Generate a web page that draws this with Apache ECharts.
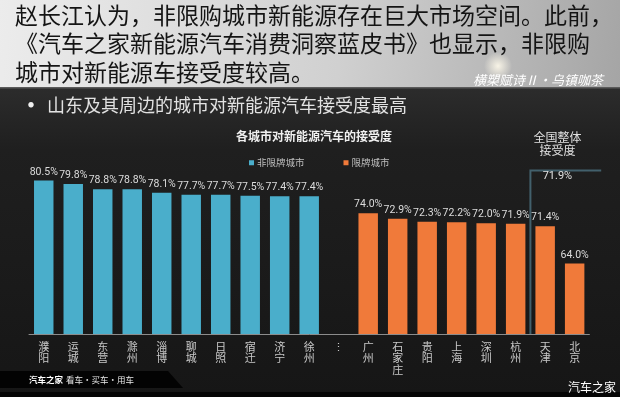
<!DOCTYPE html>
<html>
<head>
<meta charset="utf-8">
<script src="https://cdn.jsdelivr.net/npm/echarts@6/dist/echarts.min.js"></script>
<style>
  html, body { margin: 0; padding: 0; background: #1b1b1b; }
  #chart { width: 620px; height: 397px; }
</style>
</head>
<body>
<div id="chart"></div>
<script>
const cities = ['濮阳', '运城', '东营', '滁州', '淄博', '聊城', '日照', '宿迁', '济宁', '徐州',
  '⋮', '广州', '石家庄', '贵阳', '上海', '深圳', '杭州', '天津', '北京'];
const openCityValues = [80.5, 79.8, 78.8, 78.8, 78.1, 77.7, 77.7, 77.5, 77.4, 77.4];
const limitedCityValues = [74.0, 72.9, 72.3, 72.2, 72.0, 71.9, 71.4, 64.0];
const seriesNames = ['非限牌城市', '限牌城市'];
const nationalLevel = 71.9;
const bracketTop = 82.5;

const headLines = [
  '赵长江认为，非限购城市新能源存在巨大市场空间。此前，',
  '《汽车之家新能源汽车消费洞察蓝皮书》也显示，非限购',
  '城市对新能源车接受度较高。'
];
const bulletText = '山东及其周边的城市对新能源汽车接受度最高';

const CJK = '"Noto Sans CJK SC", "Noto Sans", sans-serif';
const BLUE = '#4aaecb';
const ORANGE = '#f07a3a';

// pad each group out to the full category list
const gapIndex = openCityValues.length;
const openData = cities.map((c, i) => (i < gapIndex ? openCityValues[i] : '-'));
const limitedData = cities.map((c, i) => (i > gapIndex ? limitedCityValues[i - gapIndex - 1] : '-'));

const baseGraphics = [
  {
    type: 'rect', z: -10, silent: true,
    shape: { x: 0, y: 0, width: 620, height: 88 },
    style: {
      fill: new echarts.graphic.LinearGradient(0, 0, 1, 1, [
        { offset: 0, color: '#ececec' },
        { offset: 0.55, color: '#d0d0d0' },
        { offset: 1, color: '#a5a5a5' }
      ])
    }
  },
  {
    type: 'rect', z: -10, silent: true,
    shape: { x: 0, y: 88, width: 620, height: 309 },
    style: {
      fill: new echarts.graphic.LinearGradient(0, 0, 0, 1, [
        { offset: 0, color: '#2c2c2c' },
        { offset: 0.2, color: '#1f1f1f' },
        { offset: 1, color: '#161616' }
      ])
    }
  },
  {
    type: 'rect', z: -9, silent: true,
    shape: { x: 0, y: 87, width: 620, height: 1.5 },
    style: { fill: '#5a5a5a' }
  },
  {
    type: 'circle', z: -9, silent: true,
    shape: { cx: 498, cy: 66, r: 14 },
    style: {
      fill: new echarts.graphic.RadialGradient(0.5, 0.5, 0.5, [
        { offset: 0, color: 'rgba(255,250,235,0.9)' },
        { offset: 1, color: 'rgba(255,250,235,0)' }
      ])
    }
  },
  {
    type: 'rect', z: -8, silent: true,
    shape: { x: 0, y: 392, width: 620, height: 5 },
    style: { fill: '#050505' }
  },
  {
    type: 'polygon', z: -8, silent: true,
    shape: { points: [[0, 371], [168, 371], [183, 388], [0, 388]] },
    style: { fill: '#030303' }
  }
];

headLines.forEach((line, i) => {
  baseGraphics.push({
    type: 'text', z: 10, silent: true,
    x: 15, y: 15 + i * 28.5,
    style: { text: line, font: '23px ' + CJK, fill: '#141414', verticalAlign: 'middle' }
  });
});

baseGraphics.push(
  {
    type: 'text', z: 10, silent: true, x: 473, y: 80,
    style: { text: '横槊赋诗Ⅱ·乌镇咖茶', font: 'italic 13px ' + CJK, fill: '#ffffff', verticalAlign: 'middle' }
  },
  {
    type: 'text', z: 10, silent: true, x: 28, y: 105,
    style: { text: '●', font: '6px ' + CJK, fill: '#f0f0f0', verticalAlign: 'middle' }
  },
  {
    type: 'text', z: 10, silent: true, x: 47, y: 105,
    style: { text: bulletText, font: '18px ' + CJK, fill: '#e2e2e2', verticalAlign: 'middle' }
  },
  {
    type: 'text', z: 10, silent: true, x: 29, y: 380,
    style: { text: '汽车之家', font: 'bold 8.5px ' + CJK, fill: '#ffffff', verticalAlign: 'middle' }
  },
  {
    type: 'text', z: 10, silent: true, x: 66, y: 380,
    style: { text: '看车·买车·用车', font: '8.5px ' + CJK, fill: '#e8e8e8', verticalAlign: 'middle' }
  },
  {
    type: 'text', z: 10, silent: true, x: 568, y: 387,
    style: { text: '汽车之家', font: '12px ' + CJK, fill: '#ffffff', verticalAlign: 'middle' }
  }
);

const labelStyle = {
  show: true,
  position: 'top',
  distance: 3,
  color: '#dcdcdc',
  fontSize: 10.5,
  fontFamily: 'Roboto, sans-serif',
  formatter: p => p.value.toFixed(1) + '%'
};

const option = {
  animation: false,
  backgroundColor: 'transparent',
  title: {
    text: '各城市对新能源汽车的接受度',
    left: 236,
    top: 130,
    padding: 0,
    textStyle: { color: '#f0f0f0', fontSize: 12, fontWeight: 'bold', fontFamily: CJK }
  },
  legend: {
    data: seriesNames,
    left: 249,
    top: 158,
    padding: 0,
    itemGap: 39,
    itemWidth: 5,
    itemHeight: 5,
    icon: 'rect',
    textStyle: { color: '#bdbdbd', fontSize: 9.5, fontFamily: CJK, padding: [0, 0, 0, -2] }
  },
  grid: { left: 29, right: 30.6, top: 132.8, bottom: 63 },
  xAxis: {
    type: 'category',
    data: cities,
    axisLine: { lineStyle: { color: '#8c8c8c', width: 1 } },
    axisTick: { show: false },
    axisLabel: {
      interval: 0,
      margin: 7,
      color: '#c8c8c8',
      fontSize: 11,
      lineHeight: 11.5,
      fontFamily: CJK,
      verticalAlign: 'top',
      formatter: v => v.split('').join('\n')
    }
  },
  yAxis: { type: 'value', min: 50, max: 90, show: false, splitLine: { show: false } },
  series: [
    {
      name: seriesNames[0], type: 'bar', data: openData,
      barCategoryGap: '34%', barGap: '-100%',
      itemStyle: { color: BLUE }, label: labelStyle
    },
    {
      name: seriesNames[1], type: 'bar', data: limitedData,
      barCategoryGap: '34%', barGap: '-100%',
      itemStyle: { color: ORANGE }, label: labelStyle
    }
  ],
  graphic: baseGraphics
};

const chart = echarts.init(document.getElementById('chart'));
chart.setOption(option);

// bracket for the national level sits between 杭州 and 天津
const hz = chart.convertToPixel({ gridIndex: 0 }, [cities.indexOf('杭州'), bracketTop]);
const tj = chart.convertToPixel({ gridIndex: 0 }, [cities.indexOf('天津'), 50]);
const bx = (hz[0] + tj[0]) / 2;
const step = tj[0] - hz[0];
const annotation = [
  {
    type: 'polyline', z: 5, silent: true,
    shape: { points: [[bx, tj[1]], [bx, hz[1]], [bx + step * 2.4, hz[1]]] },
    style: { stroke: '#42606c', lineWidth: 2, fill: null }
  },
  {
    type: 'text', z: 10, silent: true, x: bx + 27, y: hz[1] - 14,
    style: { text: '全国整体\n接受度', font: '12px ' + CJK, fill: '#e0e0e0', align: 'center', verticalAlign: 'bottom', lineHeight: 13 }
  },
  {
    type: 'text', z: 10, silent: true, x: bx + 27, y: hz[1] + 6,
    style: { text: nationalLevel.toFixed(1) + '%', font: '11px Roboto, sans-serif', fill: '#e0e0e0', align: 'center', verticalAlign: 'middle' }
  }
];
chart.setOption({ graphic: baseGraphics.concat(annotation) });
</script>
</body>
</html>
